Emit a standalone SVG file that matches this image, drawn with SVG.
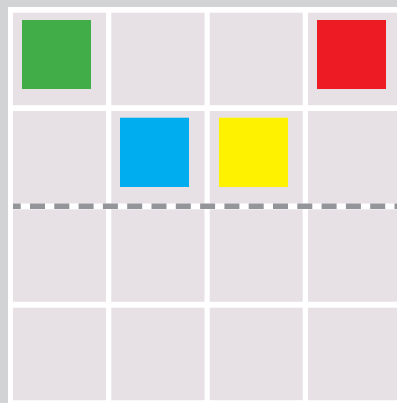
<svg xmlns="http://www.w3.org/2000/svg" width="397" height="403" viewBox="0 0 397 403">
<style>
.cell{fill:#e7e1e6}
.sq{stroke:none}
</style>
<rect x="0" y="0" width="397" height="403" fill="#d1d3d4"/>
<rect x="8" y="7" width="389" height="396" fill="#ffffff"/>
<g id="grid">
<rect class="cell" x="13" y="12.7" width="93" height="92.5"/>
<rect class="cell" x="111.3" y="12.7" width="93.2" height="92.5"/>
<rect class="cell" x="209.7" y="12.7" width="93" height="92.5"/>
<rect class="cell" x="308" y="12.7" width="89" height="92.5"/>
<rect class="cell" x="13" y="111" width="93" height="92.5"/>
<rect class="cell" x="111.3" y="111" width="93.2" height="92.5"/>
<rect class="cell" x="209.7" y="111" width="93" height="92.5"/>
<rect class="cell" x="308" y="111" width="89" height="92.5"/>
<rect class="cell" x="13" y="209.3" width="93" height="92.5"/>
<rect class="cell" x="111.3" y="209.3" width="93.2" height="92.5"/>
<rect class="cell" x="209.7" y="209.3" width="93" height="92.5"/>
<rect class="cell" x="308" y="209.3" width="89" height="92.5"/>
<rect class="cell" x="13" y="307.7" width="93" height="92.5"/>
<rect class="cell" x="111.3" y="307.7" width="93.2" height="92.5"/>
<rect class="cell" x="209.7" y="307.7" width="93" height="92.5"/>
<rect class="cell" x="308" y="307.7" width="89" height="92.5"/>
</g>
<g id="green"><rect class="sq" x="22" y="20" width="69" height="69" fill="#41ad49"/></g>
<g id="red"><rect class="sq" x="317" y="20" width="69" height="69" fill="#ed1c24"/></g>
<g id="blue"><rect class="sq" x="120" y="117.7" width="69" height="69.3" fill="#00aeef"/></g>
<g id="yellow"><rect class="sq" x="219" y="117.7" width="69" height="69.3" fill="#fff200"/></g>
<g id="connectors">
<line x1="13" y1="206.2" x2="397" y2="206.2" stroke="#939598" stroke-width="5.6" stroke-dasharray="15 9.3" stroke-dashoffset="7.3"/>
</g>
</svg>
